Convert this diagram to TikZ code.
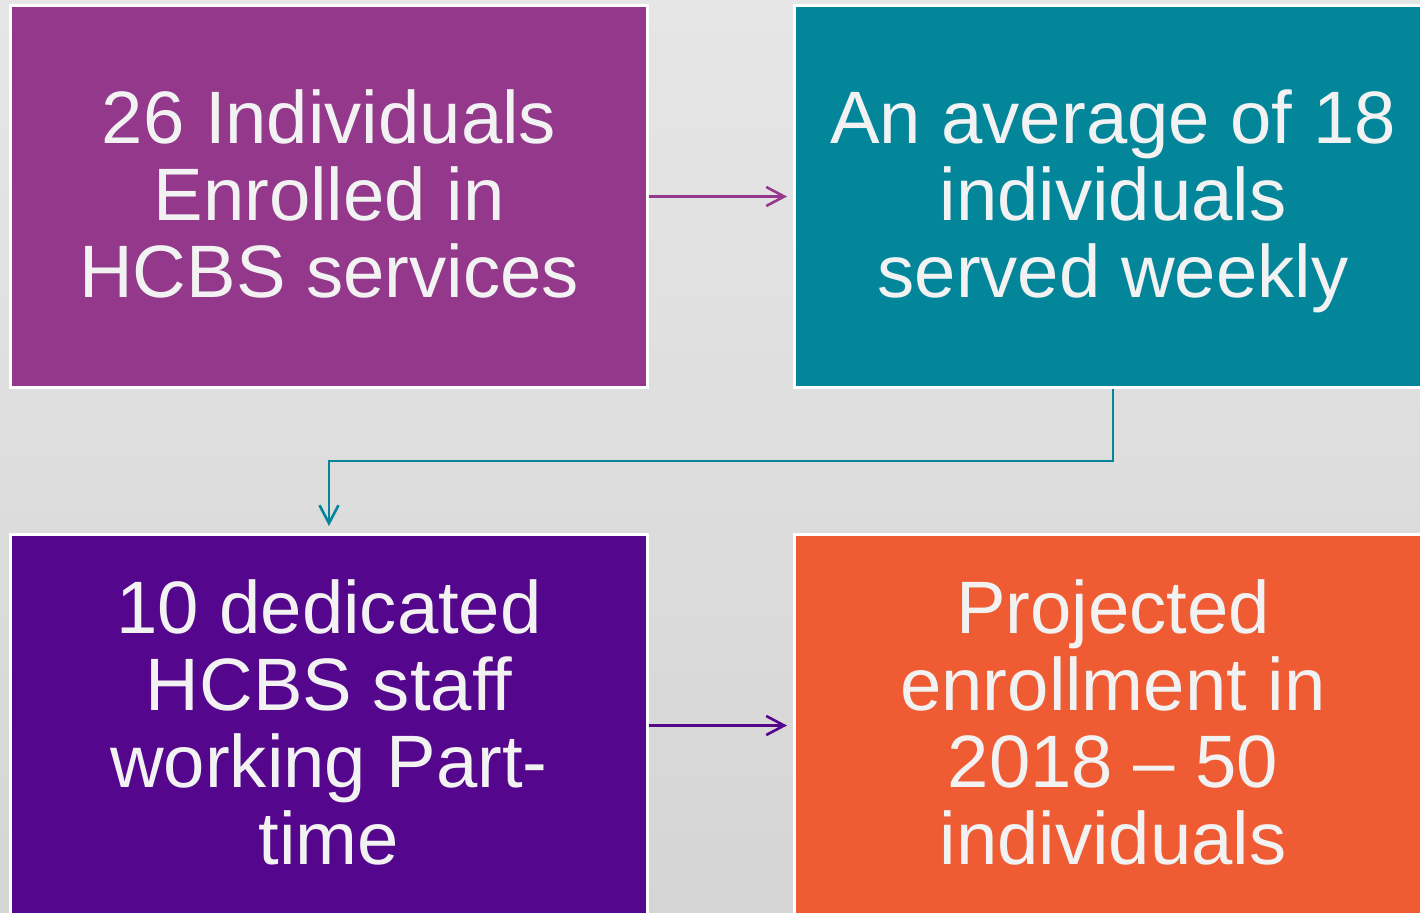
\documentclass[tikz,border=0pt]{standalone}
\usepackage{fontspec}
\setmainfont{Liberation Sans}
\usetikzlibrary{arrows.meta}
\definecolor{bgtop}{HTML}{E6E6E6}
\definecolor{bgbot}{HTML}{D5D5D5}
\definecolor{cpurple}{HTML}{93388B}
\definecolor{cteal}{HTML}{04869A}
\definecolor{cviolet}{HTML}{54068C}
\definecolor{corange}{HTML}{EF5B33}
\definecolor{ctext}{HTML}{F2F2F2}
\newcommand{\tstrut}{\rule{0pt}{63pt}}
\newcommand{\bstrut}{\rule[-16pt]{0pt}{0pt}}
\tikzset{
  boxnode/.style={draw=white, line width=3pt, minimum width=637pt, minimum height=382pt,
    inner sep=0pt, text=ctext, align=center,
    font=\fontsize{74.3pt}{77pt}\selectfont},
  flowarrow/.style={line width=2.4pt, -{Straight Barb[length=18pt,width=19pt,line width=2.6pt]}}
}
\begin{document}
\begin{tikzpicture}[x=1pt,y=-1pt]
\useasboundingbox (0,0) rectangle (1420,912);
\shade[top color=bgtop, bottom color=bgbot] (0,0) rectangle (1420,912);
\node[boxnode, fill=cpurple] (tl) at (329,196.5) {\tstrut 26 Individuals\\Enrolled in\\HCBS services\bstrut};
\node[boxnode, fill=cteal] (tr) at (1113,196.5) {\tstrut An average of 18\\individuals\\served weekly\bstrut};
\node[boxnode, fill=cviolet] (bl) at (329,725.5) {\tstrut 10 dedicated\\HCBS staff\\working Part-\\time\bstrut};
\node[boxnode, fill=corange] (br) at (1113,725.5) {\tstrut Projected\\enrollment in\\2018 – 50\\individuals\bstrut};
\draw[flowarrow, draw=cpurple, shorten >=6pt] (tl.east) -- (tr.west);
\draw[flowarrow, draw=cteal, shorten >=7pt] (tr.south) -- (tr.south |- 0,461) -| (bl.north);
\draw[flowarrow, draw=cviolet, shorten >=6pt] (bl.east) -- (br.west);
\end{tikzpicture}
\end{document}
